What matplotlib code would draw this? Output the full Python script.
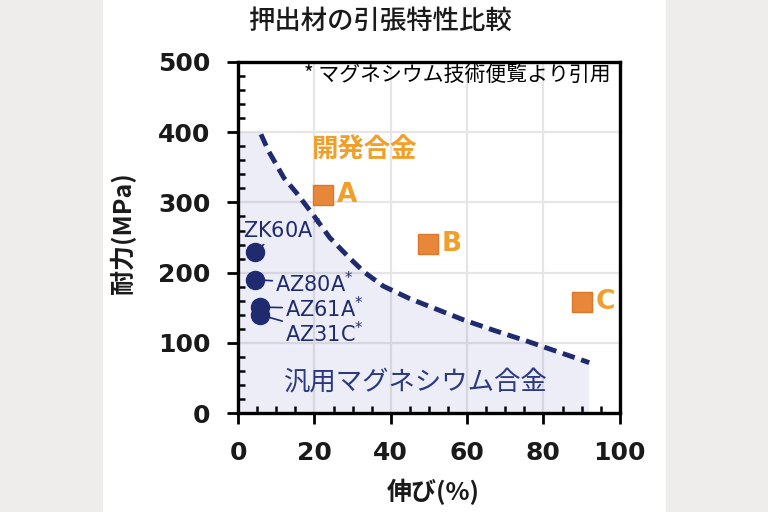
import numpy as np
import matplotlib
matplotlib.use("Agg")
import matplotlib.pyplot as plt
from matplotlib.patches import Rectangle
from matplotlib.ticker import MultipleLocator

plt.rcParams['font.family'] = ['DejaVu Sans', 'Noto Sans CJK JP']
JP = ['Noto Sans CJK JP', 'DejaVu Sans']

# Datos
titulo = "押出材の引張特性比較"
nota = "* マグネシウム技術便覧より引用"

# aleaciones comerciales (circulos)
com_nombres = ["ZK60A", "AZ80A", "AZ61A", "AZ31C"]
com_elong   = [4.5, 4.5, 5.8, 5.8]
com_fuerza  = [230, 190, 151, 140]
com_texto   = [(1.3, 262), (9.7, 185), (12.3, 149), (12.3, 114)]   # donde va la etiqueta

# aleaciones desarrolladas (cuadrados)
dev_nombres = ["A", "B", "C"]
dev_elong   = [22.3, 49.7, 90.0]
dev_fuerza  = [310, 241, 158]

# curva limite (linea de trazos)
curva_x = [6, 8, 12, 15.4, 20, 24, 29, 33, 38, 45, 52, 59, 67, 76, 84, 92]
curva_y = [397, 373, 335, 313, 280, 250, 222, 201, 181, 163, 148, 133, 118, 102, 87, 72]

azul    = "#1f2b6e"
naranja = "#e8873a"
amarillo = "#f0a02a"

fig = plt.figure(figsize=(7.68, 5.12), dpi=100)
fig.patch.set_facecolor("white")
# bandas grises a los costados
fig.patches.append(Rectangle((0, 0), 0.133, 1, transform=fig.transFigure,
                             color="#eeedec", zorder=0))
fig.patches.append(Rectangle((0.867, 0), 0.133, 1, transform=fig.transFigure,
                             color="#eeedec", zorder=0))

ax = fig.add_axes([0.310, 0.193, 0.497, 0.686])
ax.set_xlim(0, 100)
ax.set_ylim(0, 500)
ax.set_axisbelow(True)
ax.grid(True, which="major", color="#e6e6e6", linewidth=1.6)

# zona sombreada bajo la curva
ax.fill(np.concatenate(([0, curva_x[0]], curva_x[1:], [curva_x[-1], 0])),
        np.concatenate(([400, 400], curva_y[1:], [0, 0])),
        color="#2636a0", alpha=0.085, linewidth=0, zorder=1)

ax.plot(curva_x, curva_y, color=azul, linewidth=3.5, dashes=(2.6, 1.4), zorder=3)

# puntos comerciales con etiquetas
for nom, xx, yy, (tx, ty) in zip(com_nombres, com_elong, com_fuerza, com_texto):
    ax.annotate(nom + r"$^{*}$", xy=(xx, yy), xytext=(tx, ty), color=azul,
                fontsize=15, ha="left", va="center",
                arrowprops=dict(arrowstyle="-", color=azul, lw=1.2,
                                shrinkA=0, shrinkB=6), zorder=6)
ax.plot(com_elong, com_fuerza, "o", color=azul, markersize=13, zorder=5)

# puntos desarrollados
ax.plot(dev_elong, dev_fuerza, "s", color=naranja, markeredgecolor="#d9772c",
        markersize=15, zorder=5)
for nom, xx, yy in zip(dev_nombres, dev_elong, dev_fuerza):
    ax.annotate(nom, xy=(xx, yy), xytext=(10, 0), textcoords="offset points",
                color=amarillo, fontsize=19, fontweight="bold",
                ha="left", va="center")

ax.text(33.2, 375, "開発合金", family=JP, color=amarillo, fontsize=19,
        fontweight="bold", ha="center", va="center")
ax.text(46.6, 43, "汎用マグネシウム合金", family=JP, color="#2b3a80", fontsize=19,
        ha="center", va="center", zorder=4)
ax.text(97.6, 481, nota, family=JP, color="black", fontsize=15,
        ha="right", va="center")

# ejes y ticks
for s in ax.spines.values():
    s.set_linewidth(2.4)
    s.set_color("black")
ax.xaxis.set_major_locator(MultipleLocator(20))
ax.xaxis.set_minor_locator(MultipleLocator(5))
ax.yaxis.set_major_locator(MultipleLocator(100))
ax.yaxis.set_minor_locator(MultipleLocator(20))
ax.tick_params(which="major", direction="out", length=8, width=2, pad=12,
               labelsize=18, colors="black")
ax.tick_params(which="minor", direction="in", length=5, width=1.8)
for lab in ax.get_xticklabels() + ax.get_yticklabels():
    lab.set_fontweight("bold")
    lab.set_color("#1a1a1a")

fig.text(0.495, 0.958, titulo, family=JP, fontsize=19, fontweight="medium",
         ha="center", va="center", color="#1a1a1a")
fig.text(0.564, 0.040, "伸び(%)", family=JP, fontsize=18, fontweight="bold",
         ha="center", va="center", color="#1a1a1a")
fig.text(0.160, 0.545, "耐力(MPa)", family=JP, fontsize=18, fontweight="bold",
         ha="center", va="center", rotation=90, color="#1a1a1a")

fig.savefig("out.png", dpi=100)
